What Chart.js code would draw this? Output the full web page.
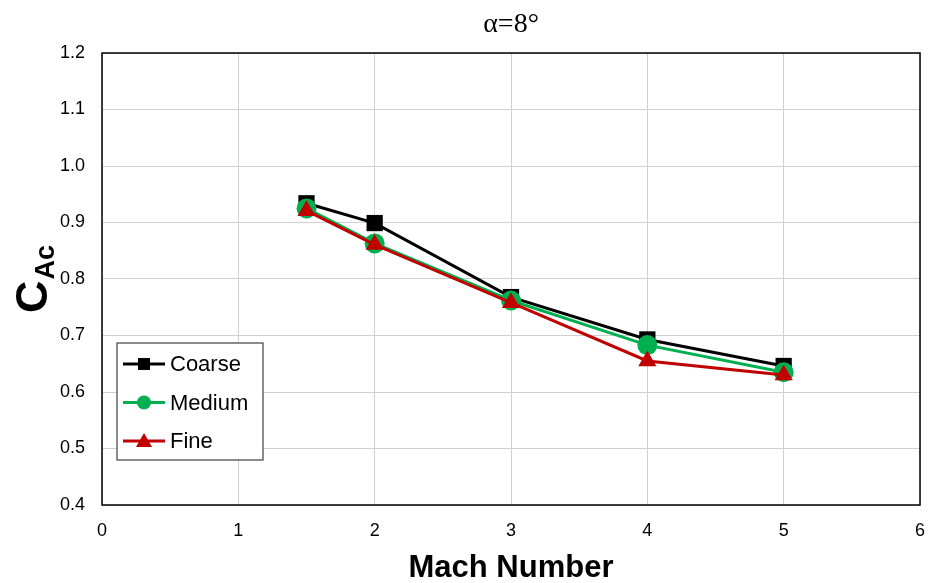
<!DOCTYPE html>
<html><head><meta charset="utf-8">
<script src="https://cdn.jsdelivr.net/npm/chart.js@4/dist/chart.umd.min.js"></script>
<style>html,body{margin:0;padding:0;background:#fff}canvas{display:block}</style>
</head><body>
<canvas id="c" width="928" height="583"></canvas>
<script>
const machNumbers = [1.5, 2, 3, 4, 5];
const coarse = [0.934, 0.899, 0.768, 0.693, 0.646];
const medium = [0.925, 0.863, 0.762, 0.683, 0.635];
const fine   = [0.921, 0.861, 0.758, 0.655, 0.630];
const seriesNames = ['Coarse', 'Medium', 'Fine'];
const xTicks = [0, 1, 2, 3, 4, 5, 6];
const yTicks = [0.4, 0.5, 0.6, 0.7, 0.8, 0.9, 1.0, 1.1, 1.2];
const titleText = 'α=8°';
const xTitle = 'Mach Number';
const yTitleMain = 'C';
const yTitleSub = 'Ac';

const SANS = '"Liberation Sans", Arial, sans-serif';
const SERIF = '"Liberation Serif", "Times New Roman", serif';
const pts = arr => machNumbers.map((x, i) => ({x, y: arr[i]}));

const styles = [
  {color: '#000000', pointStyle: 'rect', radius: 11.5, order: 3},
  {color: '#00b050', pointStyle: 'circle', radius: 10, order: 2},
  {color: '#c00000', pointStyle: 'triangle', radius: 10.5, order: 1}
];
const datas = [coarse, medium, fine];

const deco = {
  id: 'deco',
  afterDraw(chart) {
    const ctx = chart.ctx, a = chart.chartArea;
    ctx.save();
    ctx.strokeStyle = '#000'; ctx.lineWidth = 1.5;
    ctx.strokeRect(a.left, a.top, a.right - a.left, a.bottom - a.top);
    ctx.fillStyle = '#000';
    ctx.textAlign = 'center'; ctx.textBaseline = 'alphabetic';
    ctx.font = '28px ' + SERIF;
    ctx.fillText(titleText, (a.left + a.right) / 2, 32);
    ctx.font = 'bold 31px ' + SANS;
    ctx.fillText(xTitle, (a.left + a.right) / 2, 577);
    ctx.save();
    ctx.translate(47, 313);
    ctx.rotate(-Math.PI / 2);
    ctx.textAlign = 'left';
    ctx.font = 'bold 45px ' + SANS;
    ctx.fillText(yTitleMain, 0, 0);
    const w = ctx.measureText(yTitleMain).width;
    ctx.font = 'bold 27px ' + SANS;
    ctx.fillText(yTitleSub, w + 1, 7);
    ctx.restore();
    const lx = 117, ly = 343, lw = 146, lh = 117;
    ctx.fillStyle = '#fff';
    ctx.fillRect(lx, ly, lw, lh);
    ctx.strokeStyle = '#404040'; ctx.lineWidth = 1.2;
    ctx.strokeRect(lx, ly, lw, lh);
    chart.data.datasets.forEach((ds, i) => {
      const cy = 364 + i * 38.5;
      ctx.strokeStyle = ds.borderColor; ctx.lineWidth = 3;
      ctx.beginPath(); ctx.moveTo(123, cy); ctx.lineTo(165, cy); ctx.stroke();
      ctx.fillStyle = ds.borderColor;
      const s = styles[i];
      if (s.pointStyle === 'rect') { ctx.fillRect(138, cy - 6, 12, 12); }
      else if (s.pointStyle === 'circle') { ctx.beginPath(); ctx.arc(144, cy, 7, 0, Math.PI * 2); ctx.fill(); }
      else { ctx.beginPath(); ctx.moveTo(144, cy - 8); ctx.lineTo(152, cy + 6); ctx.lineTo(136, cy + 6); ctx.closePath(); ctx.fill(); }
      ctx.fillStyle = '#000';
      ctx.font = '22px ' + SANS;
      ctx.textAlign = 'left'; ctx.textBaseline = 'middle';
      ctx.fillText(ds.label, 170, cy + 1);
    });
    ctx.restore();
  }
};

new Chart(document.getElementById('c'), {
  type: 'line',
  data: {
    datasets: seriesNames.map((name, i) => ({
      label: name,
      data: pts(datas[i]),
      borderColor: styles[i].color,
      backgroundColor: styles[i].color,
      borderWidth: 3,
      pointStyle: styles[i].pointStyle,
      pointRadius: styles[i].radius,
      pointBorderWidth: 0,
      pointBackgroundColor: styles[i].color,
      order: styles[i].order,
      tension: 0
    }))
  },
  options: {
    responsive: false,
    animation: false,
    layout: {autoPadding: false, padding: {top: 53, right: 8, left: 0, bottom: 0}},
    plugins: {legend: {display: false}, title: {display: false}, tooltip: {enabled: false}},
    scales: {
      x: {
        type: 'linear', min: 0, max: 6,
        afterBuildTicks: s => { s.ticks = xTicks.map(v => ({value: v})); },
        afterFit: s => { s.height = 78; s.paddingRight = 0; s.paddingLeft = 0; },
        grid: {color: '#d0d0d0', lineWidth: 1, drawTicks: false},
        border: {display: false},
        ticks: {color: '#000', font: {family: SANS, size: 18}, padding: 15}
      },
      y: {
        min: 0.4, max: 1.2,
        afterBuildTicks: s => { s.ticks = yTicks.map(v => ({value: v})); },
        afterFit: s => { s.width = 102; s.paddingTop = 0; s.paddingBottom = 0; },
        grid: {color: '#d0d0d0', lineWidth: 1, drawTicks: false},
        border: {display: false},
        ticks: {color: '#000', font: {family: SANS, size: 18}, padding: 17, callback: v => Number(v).toFixed(1)}
      }
    }
  },
  plugins: [deco]
});
</script>
</body></html>
